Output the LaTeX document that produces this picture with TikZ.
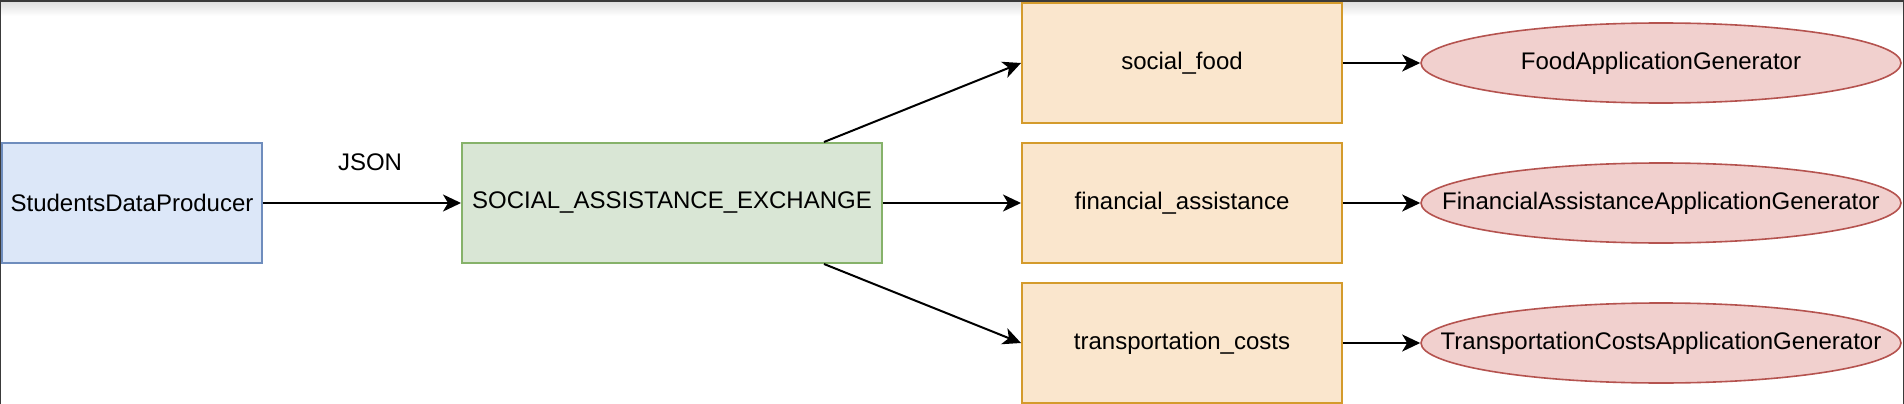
\documentclass[tikz,border=0pt]{standalone}
\usepackage{fontspec}
\setmainfont{Liberation Sans}
\usetikzlibrary{arrows.meta,shapes.geometric}
\definecolor{bluefill}{HTML}{DCE7F8}
\definecolor{bluedraw}{HTML}{6F8DBD}
\definecolor{greenfill}{HTML}{D9E6D5}
\definecolor{greendraw}{HTML}{86B26A}
\definecolor{orangefill}{HTML}{FAE6CD}
\definecolor{orangedraw}{HTML}{D49B2C}
\definecolor{redfill}{HTML}{F1D0CE}
\definecolor{reddraw}{HTML}{B5534F}
\definecolor{framegray}{HTML}{3A3A3A}
\tikzset{
  lbl/.style={font=\fontsize{24}{29}\selectfont, text=black},
  boxbase/.style={rectangle, lbl, line width=2pt, inner sep=0pt, minimum height=120pt},
  producer/.style={boxbase, fill=bluefill, draw=bluedraw, minimum width=260pt},
  exchange/.style={boxbase, fill=greenfill, draw=greendraw, minimum width=420pt},
  queue/.style={boxbase, fill=orangefill, draw=orangedraw, minimum width=320pt},
  consumer/.style={ellipse, fill=redfill, draw=reddraw, line width=1.6pt, inner sep=0pt, minimum width=480pt, minimum height=80pt},
  conn/.style={line width=2pt, -{Stealth[length=18pt, width=17pt, inset=5pt]}}
}
\begin{document}
\begin{tikzpicture}[x=1pt,y=-1pt]
  \useasboundingbox (0,0) rectangle (1904,404);
  \fill[white] (0,0) rectangle (1904,404);
  % window frame
  \shade[top color=black!12, bottom color=white] (0,2) rectangle (1904,16);
  \fill[framegray] (0,0) rectangle (1904,2.5);
  \fill[framegray] (0,0) rectangle (1.2,404);
  \fill[framegray] (1902.8,0) rectangle (1904,404);

  \node[producer] (prod) at (132,203) {StudentsDataProducer};
  \node[exchange] (ex) at (672,203) {SOCIAL\_ASSISTANCE\_EXCHANGE};
  \node[lbl] (json) at (370,162) {JSON};

  \node[queue] (q1) at (1182,63) {social\_food};
  \node[queue] (q2) at (1182,203) {financial\_assistance};
  \node[queue] (q3) at (1182,343) {transportation\_costs};

  \node[consumer, label={[lbl]center:FoodApplicationGenerator}] (c1) at (1661,63) {};
  \node[consumer, label={[lbl]center:FinancialAssistanceApplicationGenerator}] (c2) at (1661,203) {};
  \node[consumer, label={[lbl]center:TransportationCostsApplicationGenerator}] (c3) at (1661,343) {};

  \draw[conn] (prod) -- (ex);
  \draw[conn] (ex) -- (q1.west);
  \draw[conn] (ex) -- (q2);
  \draw[conn] (ex) -- (q3.west);
  \draw[conn] (q1) -- (c1);
  \draw[conn] (q2) -- (c2);
  \draw[conn] (q3) -- (c3);
\end{tikzpicture}
\end{document}
